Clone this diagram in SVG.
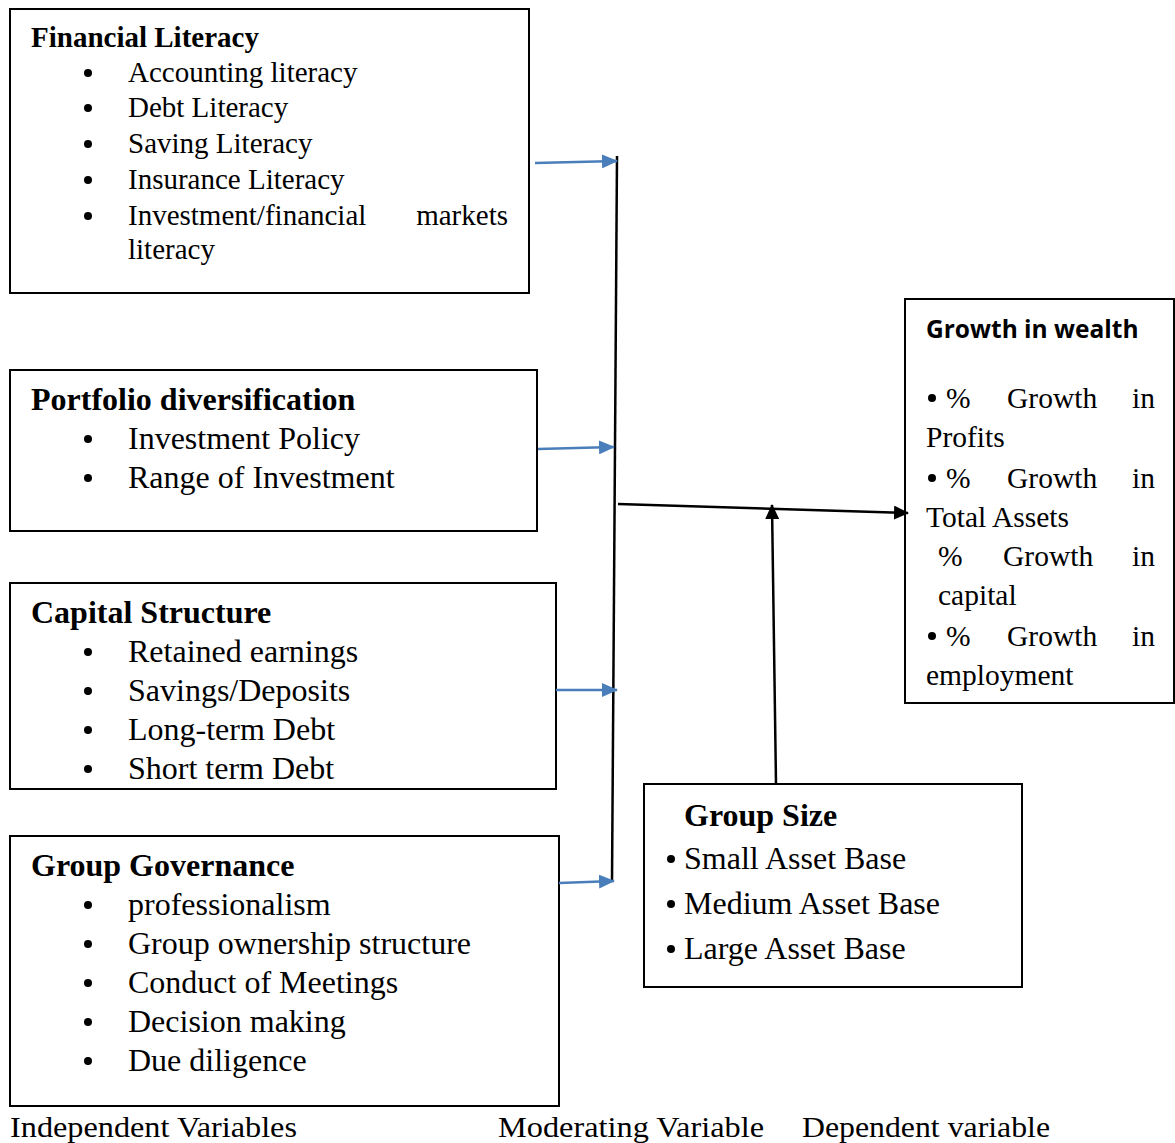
<svg xmlns="http://www.w3.org/2000/svg" width="1175" height="1143" viewBox="0 0 1175 1143">
<defs>
<style>
.box{fill:#fff;stroke:#000;stroke-width:2}
.t{font-family:'Liberation Serif','Times New Roman',Times,serif;fill:#000}
.h{font-weight:bold}
.s1{font-size:29px}
.s2{font-size:32px}
.s3{font-size:29.5px}
.sans{font-family:'Open Sans','Liberation Sans',sans-serif;font-weight:bold;font-size:24.5px}
.blue{stroke:#4a7ebb;stroke-width:2.5;fill:none}
.blk{stroke:#000;stroke-width:2.5;fill:none}
</style>
<marker id="ab" viewBox="0 0 16 14" refX="15" refY="7" markerWidth="16" markerHeight="14" markerUnits="userSpaceOnUse" orient="auto"><path d="M0,0L16,7L0,14z" fill="#4a7ebb"/></marker>
<marker id="ak" viewBox="0 0 15 14" refX="14" refY="7" markerWidth="15" markerHeight="14" markerUnits="userSpaceOnUse" orient="auto"><path d="M0,0L15,7L0,14z" fill="#000"/></marker>
</defs>

<g id="financial-literacy">
<rect class="box" x="10" y="9" width="519" height="284"/>
<text class="t h s1" x="31" y="47">Financial Literacy</text>
<g class="t s1">
<circle cx="88" cy="73" r="4"/><text x="128" y="82">Accounting literacy</text>
<circle cx="88" cy="108" r="4"/><text x="128" y="117">Debt Literacy</text>
<circle cx="88" cy="144" r="4"/><text x="128" y="153">Saving Literacy</text>
<circle cx="88" cy="180" r="4"/><text x="128" y="189">Insurance Literacy</text>
<circle cx="88" cy="216" r="4"/><text x="128" y="225">Investment/financial</text><text x="508" y="225" text-anchor="end">markets</text>
<text x="128" y="259">literacy</text>
</g>
</g>

<g id="portfolio-diversification">
<rect class="box" x="10" y="370" width="527" height="161"/>
<text class="t h s2" x="31" y="410">Portfolio diversification</text>
<g class="t s2">
<circle cx="88" cy="439" r="4"/><text x="128" y="449">Investment Policy</text>
<circle cx="88" cy="478" r="4"/><text x="128" y="488">Range of Investment</text>
</g>
</g>

<g id="capital-structure">
<rect class="box" x="10" y="583" width="546" height="206"/>
<text class="t h s2" x="31" y="623">Capital Structure</text>
<g class="t s2">
<circle cx="88" cy="652" r="4"/><text x="128" y="662">Retained earnings</text>
<circle cx="88" cy="691" r="4"/><text x="128" y="701">Savings/Deposits</text>
<circle cx="88" cy="730" r="4"/><text x="128" y="740">Long-term Debt</text>
<circle cx="88" cy="769" r="4"/><text x="128" y="779">Short term Debt</text>
</g>
</g>

<g id="group-governance">
<rect class="box" x="10" y="836" width="549" height="270"/>
<text class="t h s2" x="31" y="876">Group Governance</text>
<g class="t s2">
<circle cx="88" cy="905" r="4"/><text x="128" y="915">professionalism</text>
<circle cx="88" cy="944" r="4"/><text x="128" y="954">Group ownership structure</text>
<circle cx="88" cy="983" r="4"/><text x="128" y="993">Conduct of Meetings</text>
<circle cx="88" cy="1022" r="4"/><text x="128" y="1032">Decision making</text>
<circle cx="88" cy="1061" r="4"/><text x="128" y="1071">Due diligence</text>
</g>
</g>

<g id="growth-in-wealth">
<rect class="box" x="905" y="299" width="269" height="404"/>
<text class="sans" x="926" y="338">Growth in wealth</text>
<g class="t s3">
<circle cx="932" cy="398" r="4"/><text x="946" y="408">%</text><text x="1007" y="408">Growth</text><text x="1155" y="408" text-anchor="end">in</text>
<text x="926" y="447">Profits</text>
<circle cx="932" cy="478" r="4"/><text x="946" y="488">%</text><text x="1007" y="488">Growth</text><text x="1155" y="488" text-anchor="end">in</text>
<text x="926" y="527">Total Assets</text>
<text x="938" y="566">%</text><text x="1003" y="566">Growth</text><text x="1155" y="566" text-anchor="end">in</text>
<text x="938" y="605">capital</text>
<circle cx="932" cy="636" r="4"/><text x="946" y="646">%</text><text x="1007" y="646">Growth</text><text x="1155" y="646" text-anchor="end">in</text>
<text x="926" y="685">employment</text>
</g>
</g>

<g id="group-size">
<rect class="box" x="644" y="784" width="378" height="203"/>
<text class="t h s2" x="684" y="826">Group Size</text>
<g class="t s2">
<circle cx="671" cy="859" r="4"/><text x="684" y="869">Small Asset Base</text>
<circle cx="671" cy="904" r="4"/><text x="684" y="914">Medium Asset Base</text>
<circle cx="671" cy="949" r="4"/><text x="684" y="959">Large Asset Base</text>
</g>
</g>

<g id="connectors">
<line class="blk" x1="617" y1="156" x2="612" y2="882" stroke-width="2"/>
<line class="blue" x1="535" y1="163" x2="617" y2="161" marker-end="url(#ab)"/>
<line class="blue" x1="538" y1="449" x2="614" y2="447" marker-end="url(#ab)"/>
<line class="blue" x1="556" y1="690" x2="617" y2="690" marker-end="url(#ab)"/>
<line class="blue" x1="559" y1="883" x2="614" y2="881" marker-end="url(#ab)"/>
<line class="blk" x1="618" y1="504" x2="908" y2="513" marker-end="url(#ak)"/>
<line class="blk" x1="776" y1="784" x2="772" y2="505" marker-end="url(#ak)"/>
</g>

<g id="labels" class="t" font-size="30">
<text x="10" y="1137" textLength="287" lengthAdjust="spacingAndGlyphs">Independent Variables</text>
<text x="498" y="1137" textLength="266" lengthAdjust="spacingAndGlyphs">Moderating Variable</text>
<text x="802" y="1137" textLength="248" lengthAdjust="spacingAndGlyphs">Dependent variable</text>
</g>
</svg>
